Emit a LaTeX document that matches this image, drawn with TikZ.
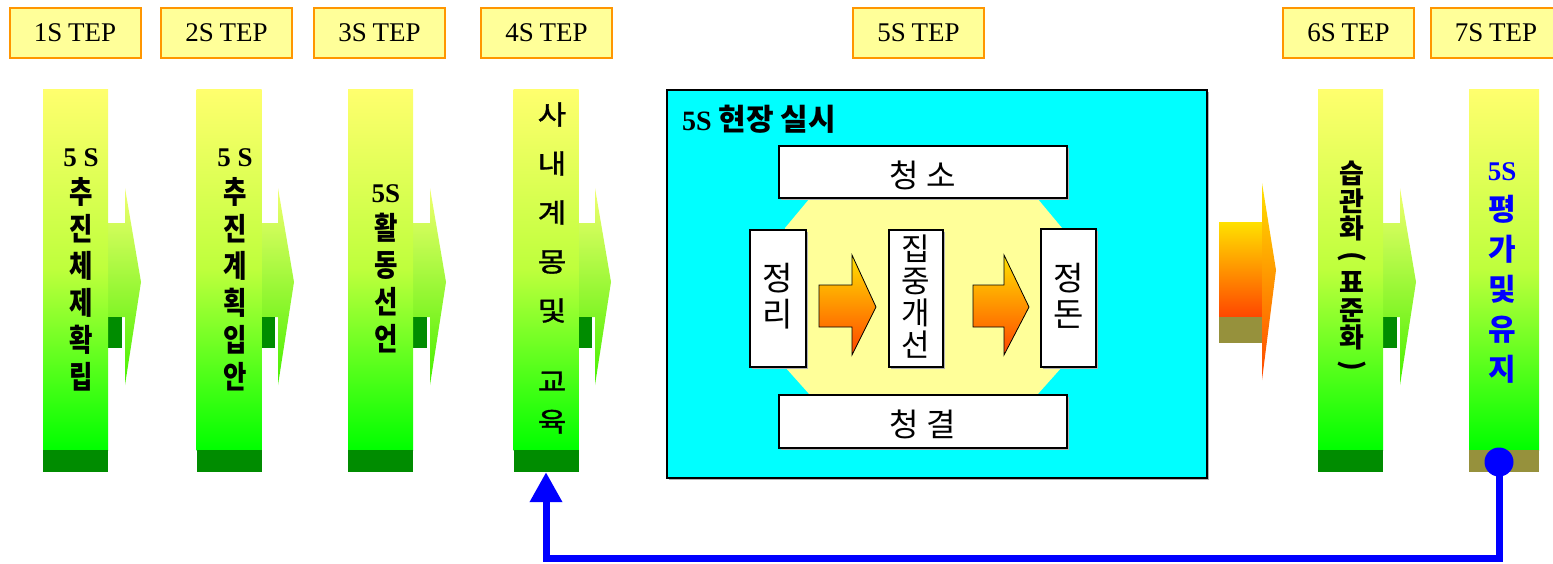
\documentclass[tikz,border=0pt]{standalone}
\usepackage{fontspec}
\usepackage{graphicx}
\setmainfont{Liberation Serif}
\newfontfamily\kr[FakeStretch=0.82]{Noto Sans CJK KR}
\newfontfamily\krn{Noto Sans CJK KR}
\newfontfamily\krw[FakeStretch=1.15,FakeBold=1.2]{Noto Sans CJK KR}
\usetikzlibrary{arrows.meta,calc}
\definecolor{stepfill}{RGB}{255,255,153}
\definecolor{stepline}{RGB}{255,150,0}
\definecolor{bartop}{RGB}{255,255,110}
\definecolor{barmid}{RGB}{190,255,60}
\definecolor{barbot}{RGB}{0,255,0}
\definecolor{darkg}{RGB}{0,140,0}
\definecolor{olivebase}{RGB}{150,145,60}
\definecolor{octfill}{RGB}{255,255,153}
\definecolor{otop}{RGB}{255,225,0}
\definecolor{obot}{RGB}{255,70,0}
\definecolor{arrtop}{RGB}{240,255,110}
\definecolor{arrbot}{RGB}{70,240,0}
\definecolor{cyanbox}{RGB}{0,255,255}
\definecolor{pureblue}{RGB}{0,0,255}
\begin{document}
\begin{tikzpicture}[x=1pt,y=-1pt,
  stepbox/.style={draw=stepline, line width=2pt, fill=stepfill, minimum width=131pt, minimum height=50pt, inner sep=0pt, font=\fontsize{27}{29}\selectfont},
  barbox/.style={minimum width=65pt, minimum height=361pt, inner sep=0pt, draw=none, top color=bartop, bottom color=barbot, middle color=barmid},
  basebox/.style={fill=darkg, minimum width=65pt, minimum height=22pt, inner sep=0pt},
  bartext/.style={align=center, inner sep=0pt, font=\kr\bfseries\fontsize{31}{37}\selectfont},
  whitebox/.style={draw=black, line width=2pt, fill=white, inner sep=0pt},
  innertext/.style={align=center, inner sep=0pt, font=\krn\fontsize{31}{32}\selectfont},
  barr/.pic={
    \shade[top color=arrtop, bottom color=arrbot] (0,223) -- (17,223) -- (17,188) -- (33,282) -- (17,385) -- (17,317) -- (0,317) -- cycle;
    \fill[darkg] (0,317) rectangle (14,348);
  },
  oarr/.style={draw=black, line width=0.8pt, top color=otop, bottom color=obot},
  conn/.style={draw=pureblue, line width=7pt, -{Triangle[width=31pt,length=30pt]}}
]
\useasboundingbox (0,0) rectangle (1553,563);

% step labels
\node[stepbox] (s1) at (75,32.5) {1S\kern-1pt\ TEP};
\node[stepbox] (s2) at (226.5,32.5) {2S\kern-1pt\ TEP};
\node[stepbox] (s3) at (379.5,32.5) {3S\kern-1pt\ TEP};
\node[stepbox] (s4) at (546.5,32.5) {4S\kern-1pt\ TEP};
\node[stepbox] (s5) at (918.5,32.5) {5S\kern-1pt\ TEP};
\node[stepbox] (s6) at (1348.5,32.5) {6S\kern-1pt\ TEP};
\node[stepbox] (s7) at (1496,32.5) {7S\kern-1pt\ TEP};

% bar arrows (behind bars)
\pic at (108,0) {barr};
\pic at (261,0) {barr};
\pic at (413,0) {barr};
\pic at (578,0) {barr};
\pic at (1383,0) {barr};

% bars
\node[barbox] (b1) at (75.5,269.5) {};
\node[barbox] (b2) at (229,269.5) {};
\node[barbox] (b3) at (380.5,269.5) {};
\node[barbox] (b4) at (546,269.5) {};
\node[barbox] (b6) at (1350.5,269.5) {};
\node[barbox, minimum width=70pt] (b7) at (1504,269.5) {};

\node[basebox] (b1base) at (75.5,461) {};
\node[basebox] (b2base) at (229,461) {};
\node[basebox] (b3base) at (380.5,461) {};
\node[basebox] (b4base) at (546,461) {};
\node[basebox] (b6base) at (1350.5,461) {};
\node[basebox, fill=olivebase, minimum width=70pt] (b7base) at (1504,461) {};

% bar texts
\node[bartext] (t1) at (81,270) {{\rmfamily\fontsize{27}{37}\selectfont 5 S}\\추\\진\\체\\제\\확\\립};
\node[bartext] (t2) at (235,270) {{\rmfamily\fontsize{27}{37}\selectfont 5 S}\\추\\진\\계\\획\\입\\안};
\node[bartext] (t3) at (386,269) {{\rmfamily\fontsize{27}{37}\selectfont 5S}\\활\\동\\선\\언};
\node[align=center, inner sep=0pt, font=\krw\fontsize{27}{49}\selectfont] (t4) at (552,268) {사\\내\\계\\몽\\및\\[22pt]교\\[-9pt]육};
\node[align=center, inner sep=0pt, font=\krn\bfseries\fontsize{27}{27.3}\selectfont] (t6) at (1352,268) {습\\관\\화\\\rotatebox[origin=c]{-90}{(}\\표\\준\\화\\\rotatebox[origin=c]{-90}{)}};
\node[align=center, inner sep=0pt, text=pureblue, font=\krn\bfseries\fontsize{30}{40}\selectfont] (t7) at (1502,273) {{\rmfamily\fontsize{27}{40}\selectfont 5S}\\평\\가\\및\\유\\지};

% orange arrow between 5S and 6S
\shade[top color=otop, bottom color=obot] (1219,222) rectangle (1263,317);
\fill[olivebase] (1219,317) rectangle (1263,343);
\shade[top color=otop, bottom color=obot] (1262,183) -- (1276,270) -- (1262,380) -- cycle;

% 5S main box
\fill[gray!60] (669,92) rectangle (1209,480);
\node[draw=black, line width=2pt, fill=cyanbox, minimum width=540pt, minimum height=388pt, inner sep=0pt] (main) at (937,284) {};
\node[anchor=west, inner sep=0pt, font=\krn\bfseries\fontsize{30}{32}\selectfont] (title) at (682,119) {{\rmfamily\fontsize{28}{32}\selectfont 5S} 현장 실시};

% octagon
\fill[octfill] (810,198) -- (1037,198) -- (1062,228) -- (1062,367) -- (1037,395) -- (810,395) -- (785,367) -- (785,228) -- cycle;

% white boxes
\fill[gray!60] (781,148) rectangle (1069,200);
\node[whitebox, minimum width=288pt, minimum height=52pt] (cs) at (923,172) {};
\node[innertext, font=\krn\fontsize{32}{34}\selectfont] (cst) at (923,175) {청 소};
\fill[gray!60] (781,397) rectangle (1069,450);
\node[whitebox, minimum width=288pt, minimum height=53pt] (cg) at (923,421.5) {};
\node[innertext, font=\krn\fontsize{32}{34}\selectfont] (cgt) at (923,424) {청 결};

\fill[gray!60] (752,232) rectangle (808,369);
\node[whitebox, minimum width=56pt, minimum height=137pt] (jr) at (778,298.5) {};
\node[innertext, font=\krn\fontsize{33}{36}\selectfont] (jrt) at (778,296) {정\\리};
\fill[gray!60] (891,232) rectangle (945,369);
\node[whitebox, minimum width=54pt, minimum height=137pt] (jj) at (916,298.5) {};
\node[innertext] (jjt) at (916,297) {집\\중\\개\\선};
\fill[gray!60] (1043,231) rectangle (1098,369);
\node[whitebox, minimum width=55pt, minimum height=138pt] (jd) at (1068.5,298) {};
\node[innertext, font=\krn\fontsize{33}{36}\selectfont] (jdt) at (1068.5,296) {정\\돈};

% inner orange arrows
\path[oarr] (819,285) -- (852,285) -- (852,255) -- (876,307) -- (852,355) -- (852,327) -- (819,327) -- cycle;
\path[oarr] (973,285) -- (1004,285) -- (1004,255) -- (1029,307) -- (1004,355) -- (1004,327) -- (973,327) -- cycle;

% feedback connector
\node[circle, fill=pureblue, minimum size=29pt, inner sep=0pt] (dot) at (1499,462) {};
\coordinate (corner) at (1499,558);
\draw[conn] (dot.center) -- (corner) -| (b4base.south);
\end{tikzpicture}
\end{document}
